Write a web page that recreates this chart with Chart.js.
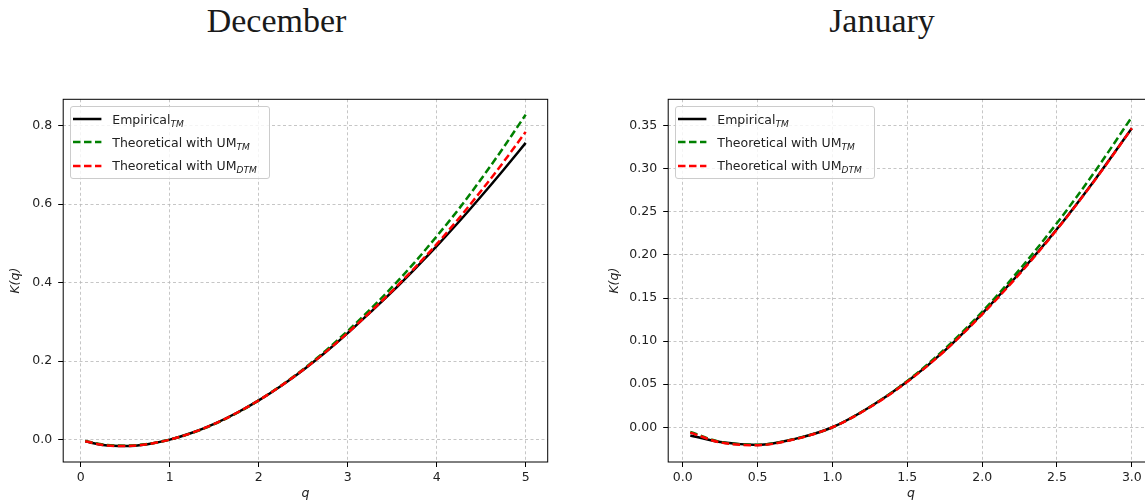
<!DOCTYPE html>
<html>
<head>
<meta charset="utf-8">
<script src="https://cdn.jsdelivr.net/npm/chart.js@4.4.1/dist/chart.umd.min.js"></script>
<style>
html, body { margin: 0; padding: 0; background: #fff; }
body { width: 1145px; height: 504px; overflow: hidden; position: relative; font-family: "DejaVu Sans", sans-serif; }
.title { position: absolute; top: 4px; font-family: "Liberation Serif", serif; font-size: 34px; line-height: 34px; color: #1a1a1a; transform: translateX(-50%); white-space: nowrap; }
canvas { position: absolute; top: 0; }
.legend { position: absolute; top: 106px; width: 200px; height: 73px; box-sizing: border-box; border: 1px solid #ccc; border-radius: 3px; background: rgba(255,255,255,0.8); font-size: 12.5px; color: #222; }
.legend .row { position: absolute; left: 0; height: 20px; display: flex; align-items: center; white-space: nowrap; }
.legend svg { margin-left: 2.3px; margin-right: 10.6px; }
.legend sub { font-style: italic; font-size: 9px; vertical-align: -3px; line-height: 0; }
</style>
</head>
<body>
<div class="title" style="left:276.5px">December</div>
<div class="title" style="left:882px">January</div>
<canvas id="decChart" width="572" height="504" style="left:0px"></canvas>
<canvas id="janChart" width="600" height="504" style="left:572px"></canvas>
<div class="legend" id="decLegend" style="left:70px"></div>
<div class="legend" id="janLegend" style="left:675px"></div>
<script>
// Series labels and styles
const seriesNames = ['Empirical', 'Theoretical with UM', 'Theoretical with UM'];
const seriesSubs = ['TM', 'TM', 'DTM'];
const seriesColors = ['#000000', '#008000', '#ff0000'];
const seriesDash = [[], [7.5, 3.5], [7.5, 3.5]];

// December
const qDec = [0.05, 0.25, 0.5, 0.75, 1, 1.25, 1.5, 1.75, 2, 2.25, 2.5, 2.75, 3, 3.25, 3.5, 3.75, 4, 4.25, 4.5, 4.75, 5];
const empDec = [-0.0045, -0.0137, -0.0165, -0.0116, 0, 0.0174, 0.0401, 0.0678, 0.1000, 0.1368, 0.1776, 0.2224, 0.2712, 0.3235, 0.3770, 0.4340, 0.4930, 0.5550, 0.6200, 0.6870, 0.7560];
const umTmDec = [-0.0035, -0.0124, -0.0154, -0.0110, 0, 0.0169, 0.0394, 0.0672, 0.1000, 0.1375, 0.1795, 0.2262, 0.2770, 0.3310, 0.3890, 0.4510, 0.5180, 0.5880, 0.6640, 0.7440, 0.8280];
const umDtmDec = [-0.0040, -0.0137, -0.0165, -0.0116, 0, 0.0174, 0.0401, 0.0678, 0.1001, 0.1369, 0.1779, 0.2229, 0.2719, 0.3245, 0.3790, 0.4370, 0.4980, 0.5640, 0.6340, 0.7070, 0.7840];
const decTicksX = [0, 1, 2, 3, 4, 5];
const decTicksY = [0.0, 0.2, 0.4, 0.6, 0.8];

// January
const qJan = [0.05, 0.25, 0.5, 0.75, 1, 1.25, 1.5, 1.75, 2, 2.25, 2.5, 2.75, 3];
const empJan = [-0.0095, -0.0172, -0.0205, -0.0135, 0, 0.0235, 0.0530, 0.0890, 0.1320, 0.1790, 0.2300, 0.2865, 0.3470];
const umTmJan = [-0.0055, -0.0170, -0.0203, -0.0135, 0, 0.0236, 0.0538, 0.0908, 0.1340, 0.1830, 0.2370, 0.2960, 0.3600];
const umDtmJan = [-0.0062, -0.0175, -0.0208, -0.0138, 0, 0.0232, 0.0528, 0.0887, 0.1310, 0.1780, 0.2295, 0.2860, 0.3470];
const janTicksX = [0.0, 0.5, 1.0, 1.5, 2.0, 2.5, 3.0];
const janTicksY = [0.00, 0.05, 0.10, 0.15, 0.20, 0.25, 0.30, 0.35];

// Draw the box around the plot area
const framePlugin = {
    id: 'frame',
    afterDatasetsDraw(chart) {
        const { ctx, chartArea: a } = chart;
        ctx.save();
        ctx.strokeStyle = '#000';
        ctx.lineWidth = 1;
        ctx.strokeRect(a.left, a.top, a.right - a.left, a.bottom - a.top);
        ctx.restore();
    }
};

const tickFont = { family: 'DejaVu Sans', size: 12.5 };
const labelFont = { family: 'DejaVu Sans', size: 12.5, style: 'italic' };

function buildChart(id, q, values, cfg) {
    const datasets = values.map((vals, i) => ({
        label: seriesNames[i] + seriesSubs[i],
        data: q.map((x, j) => ({ x: x, y: vals[j] })),
        borderColor: seriesColors[i],
        borderWidth: 2.5,
        borderDash: seriesDash[i],
        pointRadius: 0,
        fill: false,
        cubicInterpolationMode: 'monotone',
        order: 3 - i
    }));

    const axisGrid = {
        color: '#b8b8b8',
        lineWidth: 0.8,
        tickLength: 5,
        tickColor: '#000',
        tickWidth: 1,
        tickBorderDash: []
    };

    return new Chart(document.getElementById(id), {
        type: 'line',
        data: { datasets: datasets },
        options: {
            responsive: false,
            animation: false,
            devicePixelRatio: 1,
            layout: { padding: { left: cfg.padLeft, right: cfg.padRight, top: 99.3, bottom: 0 } },
            plugins: { legend: { display: false }, tooltip: { enabled: false } },
            scales: {
                x: {
                    type: 'linear',
                    min: cfg.xMin,
                    max: cfg.xMax,
                    afterBuildTicks: s => { s.ticks = cfg.xTicks.map(v => ({ value: v })); },
                    afterFit: s => { s.height = 42; },
                    ticks: { font: tickFont, color: '#222', padding: 3, maxRotation: 0, callback: v => v.toFixed(cfg.xDigits) },
                    grid: axisGrid,
                    border: { display: false, dash: [3, 2.5] },
                    title: { display: true, text: 'q', font: labelFont, color: '#222', padding: { top: 0, bottom: 2.5 } }
                },
                y: {
                    type: 'linear',
                    min: cfg.yMin,
                    max: cfg.yMax,
                    afterBuildTicks: s => { s.ticks = cfg.yTicks.map(v => ({ value: v })); },
                    afterFit: s => { s.width = cfg.axisWidth; },
                    ticks: { font: tickFont, color: '#222', padding: 6, callback: v => v.toFixed(cfg.yDigits) },
                    grid: axisGrid,
                    border: { display: false, dash: [3, 2.5] },
                    title: { display: true, text: 'K(q)', font: labelFont, color: '#222', padding: { top: 8.5, bottom: 0 } }
                }
            }
        },
        plugins: [framePlugin]
    });
}

function buildLegend(id) {
    const box = document.getElementById(id);
    seriesNames.forEach((name, i) => {
        const row = document.createElement('div');
        row.className = 'row';
        row.style.top = (2 + i * 23.3) + 'px';
        const dash = seriesDash[i].length ? ` stroke-dasharray="${seriesDash[i].join(',')}"` : '';
        row.innerHTML = `<svg width="28.4" height="6"><line x1="0" y1="3" x2="28.4" y2="3" stroke="${seriesColors[i]}" stroke-width="2.5"${dash}/></svg>` +
            `<span>${name}<sub>${seriesSubs[i]}</sub></span>`;
        box.appendChild(row);
    });
}

buildChart('decChart', qDec, [empDec, umTmDec, umDtmDec], {
    xMin: -0.1975, xMax: 5.2475, yMin: -0.057, yMax: 0.867,
    xTicks: decTicksX, yTicks: decTicksY, xDigits: 0, yDigits: 1,
    padLeft: 0, axisWidth: 63.2, padRight: 24.3
});
buildChart('janChart', qJan, [empJan, umTmJan, umDtmJan], {
    xMin: -0.0975, xMax: 3.1475, yMin: -0.0403, yMax: 0.3806,
    xTicks: janTicksX, yTicks: janTicksY, xDigits: 1, yDigits: 2,
    padLeft: 27, axisWidth: 69.2, padRight: 18.1
});
buildLegend('decLegend');
buildLegend('janLegend');
</script>
</body>
</html>
